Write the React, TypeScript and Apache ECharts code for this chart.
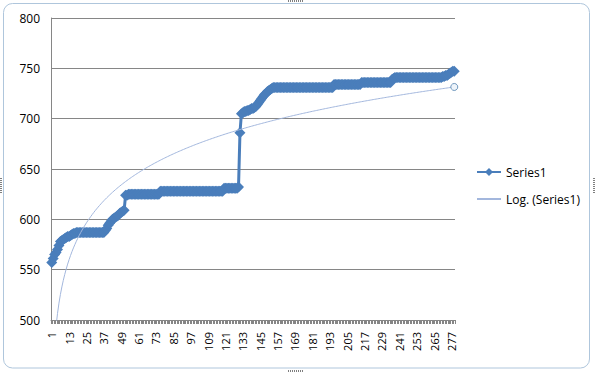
import { useEffect, useRef } from "react";
import * as echarts from "echarts";

// ---- data ----
const rise1: number[] = [557, 561, 565, 567, 570, 574, 578, 579, 580, 581, 582, 583, 583, 584, 585, 586, 586, 587];
const plateau587: number[] = [587, 587, 587, 587, 587, 587, 587, 587, 587, 587, 587, 587, 587, 587, 587, 587, 587, 587, 587];
const rise2: number[] = [589, 591, 594, 596, 598, 600, 601, 602, 603, 604, 606, 607, 608, 609];
const plateau625: number[] = [624, 624, 625, 625, 625, 625, 625, 625, 625, 625, 625, 625, 625, 625, 625, 625, 625, 625, 625, 625, 625, 625, 625, 625];
const plateau628: number[] = [
  628, 628, 628, 628, 628, 628, 628, 628, 628, 628, 628, 628, 628, 628, 628, 628, 628, 628, 628, 628, 628, 628,
  628, 628, 628, 628, 628, 628, 628, 628, 628, 628, 628, 628, 628, 628, 628, 628, 628, 628, 628, 628, 628, 628,
];
const plateau631: number[] = [631, 631, 631, 631, 631, 631, 631, 631, 631, 631, 632];
const jump: number[] = [686];
const rise3: number[] = [705, 706, 707, 707, 708, 708, 709, 710, 710, 711, 712];
const rise4: number[] = [714, 716, 718, 720, 722, 724, 725, 727, 728, 729, 730, 731];
const plateau731: number[] = [
  731, 731, 731, 731, 731, 731, 731, 731, 731, 731, 731, 731, 731, 731, 731, 731, 731, 731, 731, 731, 731,
  731, 731, 731, 731, 731, 731, 731, 731, 731, 731, 731, 731, 731, 731, 731, 731, 731, 731, 731, 731,
];
const plateau734: number[] = [734, 734, 734, 734, 734, 734, 734, 734, 734, 734, 734, 734, 734, 734, 734, 734, 734, 734, 734];
const plateau736: number[] = [736, 736, 736, 736, 736, 736, 736, 736, 736, 736, 736, 736, 736, 736, 736, 736, 736, 736, 736, 736, 736];
const plateau741: number[] = [
  739, 740, 741, 741, 741, 741, 741, 741, 741, 741, 741, 741, 741, 741, 741, 741, 741, 741,
  741, 741, 741, 741, 741, 741, 741, 741, 741, 741, 741, 741, 741, 741, 741, 741, 741,
];
const tail: number[] = [742, 742, 743, 743, 744, 745, 746, 747, 747];

const series1: number[] = [
  ...rise1, ...plateau587, ...rise2, ...plateau625, ...plateau628, ...plateau631, ...jump,
  ...rise3, ...rise4, ...plateau731, ...plateau734, ...plateau736, ...plateau741, ...tail,
];
const categories: string[] = series1.map((_, i) => String(i + 1));
const yTicks = { min: 500, max: 800, interval: 50 };

// logarithmic least-squares trendline (as Excel computes it) from the series
function logTrend(vals: number[]): number[] {
  const n = vals.length;
  let sx = 0, sy = 0, sxx = 0, sxy = 0;
  vals.forEach((y, i) => {
    const x = Math.log(i + 1);
    sx += x; sy += y; sxx += x * x; sxy += x * y;
  });
  const a = (n * sxy - sx * sy) / (n * sxx - sx * sx);
  const b = (sy - a * sx) / n;
  return vals.map((_, i) => a * Math.log(i + 1) + b);
}

export default function App() {
  const ref = useRef<HTMLDivElement>(null);
  useEffect(() => {
    document.body.style.margin = "0";
    if (!ref.current) return;
    const chart = echarts.init(ref.current, undefined, { renderer: "svg" });
    const trend = logTrend(series1);
    const trendData: any[] = trend.map((v, i) =>
      i === trend.length - 1
        ? {
            value: v,
            symbol: "circle",
            symbolSize: 7,
            itemStyle: { color: "#EEF4FA", borderColor: "#6F97BD", borderWidth: 1 },
          }
        : v
    );
    const font = "'Open Sans', 'Noto Sans', sans-serif";
    const dots = (x1: number, y1: number, x2: number, y2: number) => ({
      type: "line",
      shape: { x1, y1, x2, y2 },
      style: { stroke: "#7F7F7F", lineWidth: 2, lineDash: [1, 1] },
      silent: true,
    });
    chart.setOption({
      animation: false,
      backgroundColor: "#ffffff",
      textStyle: { fontFamily: font },
      grid: { left: 51, top: 18, width: 404, height: 302, containLabel: false },
      graphic: [
        {
          type: "rect",
          shape: { x: 3.5, y: 3.5, width: 586, height: 364.5, r: 9 },
          style: { fill: "none", stroke: "#AFC6DC", lineWidth: 1 },
          silent: true,
        },
        dots(288, 1, 304, 1),
        dots(288, 371, 304, 371),
        dots(1, 178, 1, 194),
        dots(594, 178, 594, 194),
      ],
      legend: {
        orient: "vertical",
        left: 471,
        top: 161,
        itemWidth: 24,
        itemHeight: 10,
        itemGap: 15,
        textStyle: { fontFamily: font, fontSize: 12, color: "#000" },
        data: [
          { name: "Series1" },
          { name: "Log. (Series1)", itemStyle: { opacity: 0 } },
        ],
      },
      xAxis: {
        type: "category",
        data: categories,
        boundaryGap: true,
        axisLine: { lineStyle: { color: "#868686", width: 1 } },
        axisTick: { show: true, interval: 0, length: 4, lineStyle: { color: "#868686" } },
        axisLabel: {
          interval: 11,
          rotate: 90,
          margin: 12,
          fontSize: 11,
          color: "#000",
          fontFamily: font,
        },
        splitLine: { show: false },
      },
      yAxis: {
        type: "value",
        min: yTicks.min,
        max: yTicks.max,
        interval: yTicks.interval,
        axisLine: { show: true, lineStyle: { color: "#868686", width: 1 } },
        axisTick: { show: false },
        axisLabel: { fontSize: 12, color: "#000", margin: 11, fontFamily: font },
        splitLine: { show: true, lineStyle: { color: "#868686", width: 1 } },
      },
      series: [
        {
          name: "Series1",
          type: "line",
          data: series1,
          symbol: "diamond",
          symbolSize: 11,
          showAllSymbol: true,
          lineStyle: { color: "#4A7EBB", width: 3 },
          itemStyle: { color: "#4A7EBB" },
          z: 3,
        },
        {
          name: "Log. (Series1)",
          type: "line",
          data: trendData,
          symbol: "none",
          showAllSymbol: true,
          lineStyle: { color: "#A3B7DD", width: 1 },
          itemStyle: { color: "#A3B7DD" },
          clip: true,
          z: 4,
        },
      ],
    });
    return () => chart.dispose();
  }, []);
  return <div ref={ref} style={{ width: 596, height: 372, position: "absolute", left: 0, top: 0 }} />;
}
